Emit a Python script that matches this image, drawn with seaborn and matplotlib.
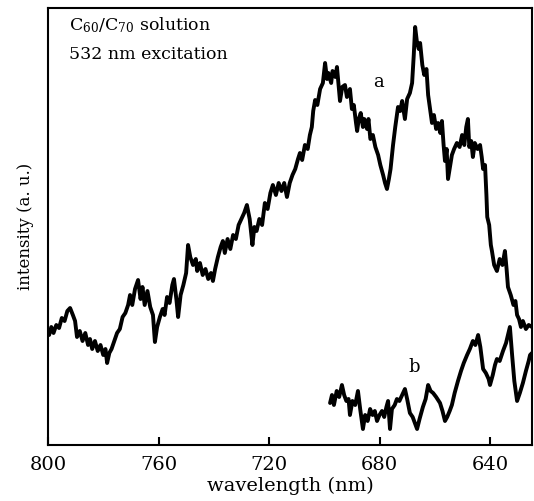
import matplotlib
matplotlib.use("Agg")
import matplotlib.pyplot as plt
import seaborn as sns
import pandas as pd

# curve a : C60/C70 solution, 532 nm excitation
wl_a = [799.6, 798.8, 798.0, 797.0, 796.0, 795.0, 794.0, 793.0, 792.0, 791.0,
        790.2, 789.5, 788.5, 787.5, 786.5, 785.5, 784.8, 784.0, 783.0, 782.0,
        781.0, 780.0, 779.2, 778.6, 777.8, 777.0, 776.0, 775.0, 774.0, 773.0,
        772.0, 771.0, 770.3, 769.5, 768.5, 767.4, 766.5, 765.8, 765.0, 764.0,
        763.0, 762.0, 761.3, 760.5, 759.5, 758.5, 757.8, 756.9, 756.0, 755.0,
        754.4, 753.5, 752.9, 752.0, 751.0, 750.0, 749.3, 748.5, 747.5, 746.5,
        746.0, 745.0, 744.0, 743.0, 742.0, 741.0, 740.3, 739.5, 738.5, 737.5,
        736.7, 736.0, 735.0, 734.0, 733.0, 732.0, 731.0, 730.0, 729.0, 728.0,
        727.0, 726.0, 725.3, 724.5, 723.5, 722.5, 721.5, 720.5, 719.5, 718.6,
        717.5, 716.5, 715.5, 714.5, 713.5, 712.5, 711.5, 710.5, 709.5, 708.8,
        708.0, 707.0, 706.0, 705.2, 704.5, 704.0, 703.3, 702.5, 701.5, 700.5,
        699.7, 699.0, 698.5, 697.5, 697.0, 696.0, 695.4, 695.0, 694.3, 693.5,
        692.5, 691.8, 690.7, 690.0, 689.3, 688.5, 688.1, 687.5, 686.8, 686.0,
        685.5, 684.5, 684.0, 683.3, 682.4, 681.5, 680.5, 679.7, 678.7, 678.0,
        677.3, 676.6, 676.0, 675.1, 674.3, 673.3, 672.5, 671.8, 670.8, 670.0,
        669.0, 668.2, 667.6, 667.1, 666.5, 665.8, 665.3, 664.5, 663.8, 663.0,
        662.4, 661.7, 661.0, 660.3, 659.5, 658.8, 658.0, 657.4, 656.8, 656.3,
        655.7, 655.2, 654.5, 653.8, 653.0, 652.0, 651.0, 650.1, 649.3, 648.6,
        648.0, 647.5, 646.8, 646.2, 645.5, 644.5, 643.6, 643.0, 642.5, 641.8,
        641.3, 641.0, 640.3, 639.7, 639.3, 638.5, 637.5, 636.5, 635.5, 634.6,
        634.0, 633.5, 632.5, 631.5, 630.8, 630.2, 629.5, 628.8, 628.1, 627.0,
        626.0, 624.8]
int_a = [110, 118, 112, 120, 117, 127, 124, 134, 137, 130,
         124, 108, 114, 104, 112, 100, 106, 96, 104, 94,
         100, 90, 96, 82, 92, 96, 104, 112, 116, 128,
         132, 140, 150, 140, 156, 165, 146, 158, 140, 154,
         138, 130, 103, 118, 128, 136, 130, 148, 142, 160,
         166, 145, 128, 150, 160, 172, 200, 188, 180, 186,
         174, 182, 170, 176, 166, 172, 164, 176, 188, 198,
         204, 192, 206, 196, 210, 206, 220, 226, 232, 240,
         226, 200, 218, 214, 226, 220, 242, 236, 252, 260,
         250, 262, 254, 262, 248, 262, 270, 276, 286, 292,
         285, 300, 296, 310, 318, 334, 345, 340, 356, 362,
         382, 366, 372, 362, 374, 368, 378, 366, 344, 358,
         360, 348, 356, 336, 340, 322, 314, 326, 332, 318,
         326, 316, 326, 306, 310, 298, 290, 280, 270, 262,
         256, 266, 276, 300, 318, 338, 334, 344, 326, 346,
         352, 362, 390, 418, 404, 396, 402, 380, 370, 376,
         350, 336, 322, 330, 316, 322, 312, 324, 300, 284,
         296, 266, 278, 290, 296, 302, 298, 310, 300, 318,
         326, 298, 304, 288, 302, 296, 300, 288, 276, 280,
         250, 228, 220, 200, 194, 180, 174, 186, 180, 194,
         176, 158, 150, 140, 144, 130, 126, 118, 124, 116,
         120, 118]

# curve b
wl_b = [697.9, 697.2, 696.5, 695.5, 694.6, 693.6, 692.8, 692.0, 691.2, 690.7,
        689.8, 688.8, 687.8, 687.0, 686.0, 685.2, 684.3, 683.4, 682.5, 681.7,
        680.9, 680.0, 679.1, 678.3, 677.5, 676.9, 676.2, 675.5, 674.5, 673.7,
        672.8, 671.8, 670.8, 670.0, 669.0, 668.0, 667.2, 666.4, 665.5, 664.3,
        663.3, 662.4, 661.5, 660.6, 659.5, 658.1, 657.2, 656.3, 655.5, 654.6,
        653.8, 652.8, 651.6, 650.5, 649.5, 648.3, 647.3, 646.2, 645.3, 644.3,
        643.5, 642.5, 641.5, 640.5, 640.0, 639.0, 638.2, 637.5, 636.5, 635.3,
        634.2, 632.8, 632.0, 631.2, 630.2, 629.2, 628.1, 627.0, 626.0, 625.5,
        624.8]
int_b = [42, 50, 40, 54, 48, 60, 50, 44, 46, 30,
         44, 40, 54, 36, 16, 30, 24, 36, 30, 34,
         24, 30, 34, 28, 38, 44, 16, 36, 40, 46,
         44, 50, 56, 46, 32, 28, 22, 16, 26, 38,
         46, 60, 54, 52, 48, 42, 34, 24, 28, 34,
         40, 52, 64, 74, 82, 90, 96, 104, 100, 110,
         98, 76, 72, 66, 60, 70, 80, 86, 84, 94,
         102, 118, 90, 64, 44, 52, 62, 74, 84, 90,
         92]

tick_pos = [800, 760, 720, 680, 640]

df_a = pd.DataFrame({"wl": wl_a, "I": int_a})
df_b = pd.DataFrame({"wl": wl_b, "I": int_b})

sns.set_theme(style="ticks")
plt.rcParams["font.family"] = ["DejaVu Serif"]
plt.rcParams["mathtext.fontset"] = "dejavuserif"
plt.rcParams["text.color"] = "black"

fig = plt.figure(figsize=(5.34, 5.01), dpi=100)
ax = fig.add_axes([48 / 534, 56 / 501, 484 / 534, 437 / 501])

sns.lineplot(data=df_a, x="wl", y="I", ax=ax, color="black", lw=2.8, sort=False)
sns.lineplot(data=df_b, x="wl", y="I", ax=ax, color="black", lw=2.8, sort=False)

ax.set_xlim(800, 624.8)
ax.set_ylim(0, 437)
ax.set_xticks(tick_pos)
ax.set_xticklabels([str(t) for t in tick_pos], fontsize=14)
ax.set_yticks([])
ax.tick_params(axis="x", direction="in", length=6, width=1.5, pad=8, colors="black")
for s in ax.spines.values():
    s.set_color("black")
    s.set_linewidth(1.5)

ax.set_xlabel("wavelength (nm)", fontsize=14, labelpad=2, color="black")
ax.set_ylabel("intensity (a. u.)", fontsize=12, labelpad=10, color="black")

ax.text(0.043, 0.96, r"C$_{60}$/C$_{70}$ solution", transform=ax.transAxes,
        fontsize=12.5, va="center", ha="left", color="black")
ax.text(0.043, 0.893, "532 nm excitation", transform=ax.transAxes,
        fontsize=12.5, va="center", ha="left", color="black")
ax.text(680.5, 363, "a", fontsize=13, ha="center", va="center", color="black")
ax.text(667.5, 78, "b", fontsize=13, ha="center", va="center", color="black")

fig.savefig("out.png", dpi=100)
